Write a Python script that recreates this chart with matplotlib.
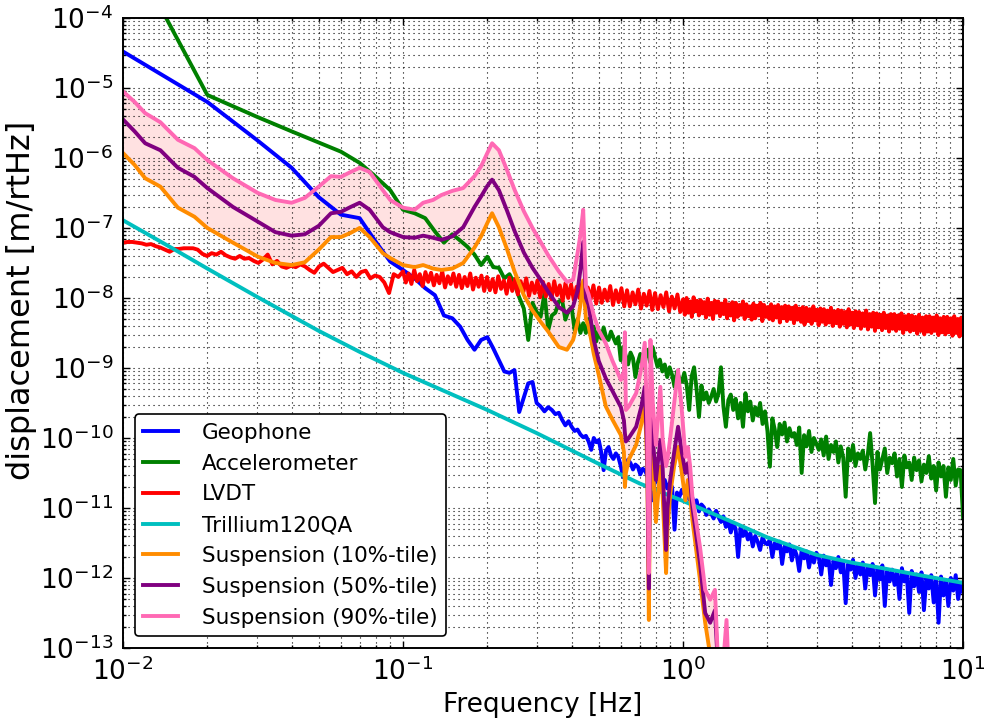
import numpy as np
import matplotlib
matplotlib.use('Agg')
import matplotlib.pyplot as plt
from matplotlib.ticker import LogLocator, LogFormatterMathtext, NullFormatter

plt.rcParams['mathtext.default'] = 'regular'
plt.rcParams['axes.unicode_minus'] = False

# all series are stored as log10(displacement [m/rtHz])

# Geophone: low band at 0.01 Hz steps, then a log grid 0.5 .. 10 Hz
geo_lo_f = np.arange(1, 51) * 0.01
geo_lo = [-4.48, -5.20, -5.74, -6.14, -6.56, -6.81, -6.86, -7.20, -7.48, -7.60,
          -7.72, -7.86, -7.96, -8.25, -8.29, -8.41, -8.60, -8.74, -8.60, -8.56,
          -8.72, -8.89, -9.05, -9.07, -9.03, -9.63, -9.42, -9.22, -9.20, -9.50,
          -9.55, -9.62, -9.56, -9.60, -9.66, -9.64, -9.74, -9.82, -9.76, -9.84,
          -9.90, -9.88, -9.95, -9.99, -9.97, -10.05, -10.17, -10.00, -10.06, -10.03]
geo_hi = [-10.03, -10.20, -10.46, -10.18, -10.13, -10.25, -10.30, -10.22, -10.27, -10.40,
          -10.56, -10.40, -10.31, -10.36, -10.45, -10.38, -10.41, -10.52, -10.44, -10.47,
          -10.55, -10.60, -10.89, -10.58, -10.62, -10.55, -10.68, -10.60, -10.72, -10.65,
          -10.70, -11.31, -10.78, -10.84, -10.74, -10.80, -10.76, -10.88, -10.82, -10.95,
          -10.89, -11.05, -10.95, -10.99, -11.10, -11.02, -11.08, -11.15, -11.04, -11.13,
          -11.20, -11.12, -11.27, -11.18, -11.35, -11.22, -11.30, -11.70, -11.28, -11.40,
          -11.32, -11.45, -11.36, -11.55, -11.40, -11.48, -11.60, -11.42, -11.50, -11.52,
          -11.45, -11.70, -11.50, -11.58, -11.48, -11.80, -11.55, -11.62, -11.52, -11.75,
          -11.58, -11.68, -11.90, -11.60, -11.72, -11.62, -11.85, -11.66, -11.78, -11.64,
          -11.70, -11.95, -11.68, -11.82, -11.72, -12.10, -11.75, -11.86, -11.70, -11.92,
          -11.76, -12.36, -11.80, -11.88, -11.74, -12.00, -11.82, -11.95, -11.78, -12.15,
          -11.84, -11.96, -11.80, -12.25, -11.86, -12.02, -11.82, -12.40, -11.90, -12.05,
          -11.88, -12.10, -11.92, -12.30, -11.86, -12.05, -11.95, -12.50, -11.90, -12.12,
          -11.95, -12.20, -11.92, -12.46, -12.00, -12.15, -11.96, -12.35, -12.02, -12.64,
          -11.98, -12.25, -12.05, -12.40, -12.00, -12.18, -11.96, -12.30, -12.08, -12.20]

# Accelerometer
acc_lo_f = np.arange(1, 51) * 0.01
acc_lo = [-2.85, -5.10, -5.41, -5.62, -5.78, -5.91, -6.07, -6.27, -6.46, -6.74,
          -6.79, -6.86, -7.05, -7.21, -7.09, -7.18, -7.27, -7.38, -7.53, -7.41,
          -7.56, -7.57, -7.72, -7.66, -7.80, -7.99, -8.15, -8.60, -8.07, -8.20,
          -8.27, -7.93, -8.46, -8.25, -8.21, -8.05, -8.03, -8.31, -8.18, -8.13,
          -8.46, -8.30, -8.50, -8.36, -8.50, -8.30, -8.45, -8.41, -8.62, -8.46]
acc_hi = [-8.46, -8.58, -8.42, -8.56, -8.60, -8.48, -8.57, -8.65, -8.56, -8.89,
          -8.70, -8.82, -8.95, -8.78, -8.86, -9.13, -8.92, -8.80, -9.00, -8.85,
          -8.74, -8.92, -8.70, -8.84, -8.98, -8.88, -9.05, -8.95, -9.13, -8.99,
          -9.10, -9.27, -9.05, -9.15, -9.20, -9.07, -9.25, -9.60, -9.12, -8.99,
          -9.30, -9.70, -9.25, -9.45, -9.35, -9.50, -9.41, -9.30, -9.48, -9.36,
          -8.99, -9.55, -9.84, -9.46, -9.38, -9.60, -9.44, -9.72, -9.50, -9.84,
          -9.36, -9.62, -9.48, -9.75, -9.56, -9.68, -9.50, -9.80, -9.62, -9.90,
          -10.41, -9.72, -9.88, -10.13, -9.80, -9.95, -9.78, -10.05, -9.86, -9.98,
          -9.93, -10.10, -9.85, -10.50, -9.96, -10.12, -9.90, -10.20, -10.00, -10.08,
          -10.17, -10.02, -10.25, -9.98, -10.30, -10.10, -10.20, -10.05, -10.35, -10.12,
          -10.28, -10.84, -10.15, -10.32, -10.10, -10.40, -10.22, -10.30, -10.18, -10.45,
          -10.25, -9.93, -10.38, -10.93, -10.20, -10.45, -10.30, -10.15, -10.50, -10.28,
          -10.36, -10.22, -10.55, -10.30, -10.70, -10.25, -10.42, -10.35, -10.60, -10.28,
          -10.46, -10.32, -10.62, -10.38, -10.50, -10.26, -10.58, -10.40, -10.75, -10.35,
          -10.55, -10.40, -10.84, -10.42, -10.60, -10.30, -10.68, -10.45, -10.46, -11.13]

# LVDT: log grids 0.01 .. 0.1, 0.1 .. 1 and 1 .. 10 Hz
lvdt_lo = [-7.21, -7.20, -7.20, -7.21, -7.22, -7.24, -7.23, -7.26, -7.28, -7.31,
           -7.34, -7.30, -7.30, -7.29, -7.29, -7.29, -7.31, -7.37, -7.40, -7.36,
           -7.38, -7.34, -7.39, -7.42, -7.44, -7.40, -7.44, -7.43, -7.47, -7.50,
           -7.45, -7.38, -7.52, -7.47, -7.55, -7.57, -7.54, -7.56, -7.52, -7.55,
           -7.60, -7.64, -7.55, -7.51, -7.57, -7.63, -7.60, -7.57, -7.66, -7.62,
           -7.70, -7.63, -7.61, -7.72, -7.68, -7.70, -7.78, -7.93, -7.66, -7.70]
lvdt_mid = [-7.62, -7.78, -7.65, -7.80, -7.60, -7.76, -7.66, -7.83, -7.63, -7.77,
            -7.64, -7.82, -7.67, -7.79, -7.62, -7.85, -7.69, -7.80, -7.65, -7.84,
            -7.67, -7.86, -7.70, -7.83, -7.65, -7.88, -7.71, -7.84, -7.68, -7.90,
            -7.70, -7.89, -7.73, -7.92, -7.69, -7.87, -7.75, -7.94, -7.71, -7.90,
            -7.73, -7.95, -7.76, -7.91, -7.72, -7.97, -7.78, -7.93, -7.75, -7.99,
            -7.77, -7.98, -7.80, -8.02, -7.76, -7.96, -7.82, -8.04, -7.79, -8.00,
            -7.81, -8.03, -7.84, -8.00, -7.79, -8.06, -7.85, -8.02, -7.82, -8.08,
            -7.85, -8.07, -7.88, -8.04, -7.83, -8.10, -7.89, -8.06, -7.86, -8.12,
            -7.89, -8.12, -7.92, -8.09, -7.88, -8.15, -7.94, -8.11, -7.90, -8.17,
            -7.93, -8.16, -7.96, -8.13, -7.92, -8.19, -7.98, -8.15, -7.95, -8.20]
lvdt_hi = [-8.02, -8.24, -8.00, -8.21, -8.05, -8.27, -7.99, -8.19, -8.04, -8.25,
           -8.03, -8.22, -8.06, -8.28, -8.01, -8.24, -8.07, -8.30, -8.04, -8.21,
           -8.05, -8.26, -8.08, -8.23, -8.03, -8.29, -8.09, -8.25, -8.06, -8.32,
           -8.07, -8.27, -8.10, -8.24, -8.05, -8.30, -8.09, -8.26, -8.12, -8.31,
           -8.08, -8.29, -8.11, -8.25, -8.07, -8.33, -8.10, -8.27, -8.13, -8.30,
           -8.09, -8.32, -8.12, -8.28, -8.10, -8.35, -8.13, -8.29, -8.11, -8.33,
           -8.12, -8.30, -8.14, -8.36, -8.11, -8.31, -8.15, -8.34, -8.13, -8.38,
           -8.14, -8.33, -8.16, -8.37, -8.12, -8.32, -8.17, -8.39, -8.15, -8.34,
           -8.16, -8.38, -8.18, -8.35, -8.14, -8.40, -8.19, -8.36, -8.17, -8.41,
           -8.18, -8.37, -8.20, -8.42, -8.16, -8.38, -8.21, -8.43, -8.19, -8.39,
           -8.20, -8.44, -8.22, -8.40, -8.18, -8.45, -8.23, -8.41, -8.21, -8.47,
           -8.22, -8.42, -8.24, -8.46, -8.21, -8.43, -8.25, -8.48, -8.23, -8.44,
           -8.23, -8.47, -8.25, -8.44, -8.22, -8.50, -8.26, -8.45, -8.24, -8.48,
           -8.25, -8.46, -8.27, -8.51, -8.24, -8.47, -8.28, -8.52, -8.26, -8.48,
           -8.26, -8.50, -8.28, -8.47, -8.25, -8.53, -8.29, -8.49, -8.27, -8.52,
           -8.27, -8.49, -8.29, -8.54, -8.26, -8.50, -8.30, -8.55, -8.28, -8.52]

# Trillium120QA (smooth model)
tri_f = [0.01, 0.015, 0.02, 0.03, 0.05, 0.07, 0.1, 0.15, 0.2, 0.3,
         0.5, 0.7, 1.0, 1.5, 2.0, 3.0, 4.0, 5.0, 7.0, 10.0]
tri = [-6.89, -7.29, -7.58, -7.98, -8.47, -8.77, -9.07, -9.38, -9.60, -9.93,
       -10.37, -10.65, -10.90, -11.20, -11.42, -11.67, -11.78, -11.85, -11.96, -12.07]

# Suspension percentiles
susp_f = [0.010, 0.011, 0.012, 0.0136, 0.0157, 0.018, 0.020, 0.0247, 0.0303, 0.035,
          0.040, 0.0446, 0.050, 0.0553, 0.060, 0.065, 0.070, 0.076, 0.0847, 0.090,
          0.100, 0.110, 0.118, 0.128, 0.137, 0.150, 0.164, 0.180, 0.190, 0.200,
          0.208, 0.220, 0.235, 0.250, 0.270, 0.290, 0.310, 0.330, 0.360, 0.385,
          0.405, 0.420, 0.430, 0.440, 0.450, 0.460, 0.480, 0.500, 0.530, 0.560,
          0.600, 0.615, 0.620, 0.625, 0.640, 0.680, 0.710, 0.730, 0.745, 0.755,
          0.765, 0.780, 0.800, 0.830, 0.845, 0.870, 0.880, 0.900, 0.930, 0.960,
          0.990, 1.020, 1.040, 1.060, 1.080, 1.150, 1.200, 1.250, 1.300, 1.330,
          1.380, 1.430, 1.460]
susp90 = [-5.05, -5.20, -5.36, -5.49, -5.74, -5.86, -6.03, -6.29, -6.50, -6.60,
          -6.64, -6.57, -6.41, -6.26, -6.27, -6.20, -6.14, -6.20, -6.46, -6.60,
          -6.71, -6.74, -6.64, -6.60, -6.53, -6.47, -6.43, -6.26, -6.12, -5.93,
          -5.79, -5.89, -6.17, -6.45, -6.76, -7.00, -7.20, -7.39, -7.62, -7.77,
          -7.74, -7.36, -7.10, -6.74, -7.84, -7.95, -8.25, -8.46, -8.65, -8.90,
          -9.17, -9.05, -8.49, -9.60, -9.55, -9.36, -9.00, -8.64, -9.80, -11.93,
          -8.60, -9.50, -10.10, -9.27, -10.00, -10.40, -10.30, -10.00, -9.50, -9.03,
          -9.60, -10.27, -10.13, -10.40, -10.84, -11.56, -12.17, -12.31, -12.17, -13.10,
          -13.40, -12.60, -13.50]
susp50 = [-5.45, -5.62, -5.79, -5.89, -6.14, -6.27, -6.43, -6.70, -6.91, -7.06,
          -7.11, -7.09, -6.97, -6.79, -6.77, -6.70, -6.64, -6.74, -6.99, -7.06,
          -7.13, -7.14, -7.11, -7.14, -7.17, -7.12, -6.99, -6.70, -6.55, -6.40,
          -6.31, -6.46, -6.75, -7.04, -7.35, -7.57, -7.74, -7.91, -8.13, -8.21,
          -8.12, -7.90, -7.60, -7.20, -8.00, -8.10, -8.60, -8.90, -9.15, -9.33,
          -9.56, -9.75, -9.93, -10.05, -10.00, -9.84, -9.55, -9.27, -10.20, -12.15,
          -9.40, -10.00, -10.60, -10.03, -10.40, -11.60, -11.00, -10.60, -10.20, -9.84,
          -10.20, -10.50, -10.36, -10.60, -10.99, -11.79, -12.50, -12.64, -12.46, -13.20,
          -13.50, -13.05, -13.60]
susp10 = [-5.93, -6.10, -6.29, -6.41, -6.71, -6.84, -7.00, -7.21, -7.41, -7.50,
          -7.53, -7.49, -7.31, -7.13, -7.13, -7.07, -7.00, -7.13, -7.36, -7.43,
          -7.53, -7.56, -7.53, -7.58, -7.60, -7.58, -7.50, -7.28, -7.12, -6.93,
          -6.79, -6.99, -7.30, -7.62, -7.96, -8.18, -8.34, -8.48, -8.70, -8.74,
          -8.60, -8.35, -8.10, -7.75, -8.30, -8.40, -8.80, -9.10, -9.55, -9.74,
          -9.96, -10.20, -10.70, -10.50, -10.31, -10.10, -9.80, -9.46, -10.40, -12.60,
          -9.90, -10.40, -11.20, -10.41, -10.80, -11.93, -11.30, -10.80, -10.40, -10.13,
          -10.50, -10.89, -10.60, -10.85, -11.17, -12.03, -12.64, -13.10, -13.30, -13.50,
          -13.70, -13.30, -13.80]

geo_f = np.concatenate([geo_lo_f[:-1], np.geomspace(0.5, 10, len(geo_hi))])
geo = 10 ** np.array(geo_lo[:-1] + geo_hi)
acc_f = np.concatenate([acc_lo_f[:-1], np.geomspace(0.5, 10, len(acc_hi))])
acc = 10 ** np.array(acc_lo[:-1] + acc_hi)
lvdt_f = np.concatenate([np.geomspace(0.01, 0.1, len(lvdt_lo), endpoint=False),
                         np.geomspace(0.1, 1, len(lvdt_mid), endpoint=False),
                         np.geomspace(1, 10, len(lvdt_hi))])
lvdt = 10 ** np.array(lvdt_lo + lvdt_mid + lvdt_hi)

LW = 2.8

fig = plt.figure(figsize=(9.85, 7.24), dpi=100, facecolor='white')
ax = fig.add_axes([0.1249, 0.105, 0.8528, 0.8702])

ax.fill_between(susp_f, 10 ** np.array(susp10), 10 ** np.array(susp90),
                facecolor='#ffe1e1', lw=0, zorder=1)
ax.plot(geo_f, geo, color='b', lw=LW, label='Geophone')
ax.plot(acc_f, acc, color='g', lw=LW, label='Accelerometer')
ax.plot(lvdt_f, lvdt, color='r', lw=LW, label='LVDT')
ax.plot(tri_f, 10 ** np.array(tri), color='c', lw=LW, label='Trillium120QA')
ax.plot(susp_f, 10 ** np.array(susp10), color='darkorange', lw=LW, label='Suspension (10%-tile)')
ax.plot(susp_f, 10 ** np.array(susp50), color='purple', lw=LW, label='Suspension (50%-tile)')
ax.plot(susp_f, 10 ** np.array(susp90), color='hotpink', lw=LW, label='Suspension (90%-tile)')

ax.set_xscale('log')
ax.set_yscale('log')
ax.set_xlim(1e-2, 1e1)
ax.set_ylim(1e-13, 1e-4)
for axis in (ax.xaxis, ax.yaxis):
    axis.set_major_locator(LogLocator(base=10, numticks=20))
    axis.set_minor_locator(LogLocator(base=10, subs=np.arange(2, 10), numticks=20))
    axis.set_major_formatter(LogFormatterMathtext())
    axis.set_minor_formatter(NullFormatter())

ax.grid(True, which='both', color='k', linestyle=(0, (1, 3.5)), linewidth=0.8)
ax.tick_params(which='both', direction='in', top=True, right=True, width=1)
ax.tick_params(which='major', length=5, labelsize=19, pad=7)
ax.tick_params(which='minor', length=2.5)
for s in ax.spines.values():
    s.set_linewidth(1.4)

ax.set_xlabel('Frequency [Hz]', fontsize=19, labelpad=4)
ax.set_ylabel('displacement [m/rtHz]', fontsize=23)
ax.yaxis.set_label_coords(-0.103, 0.552)

leg = ax.legend(loc='lower left', fontsize=15.5, handlelength=1.6, handletextpad=1.1,
                fancybox=True, framealpha=1, edgecolor='k', borderaxespad=0.55)
leg.get_frame().set_linewidth(1.2)

fig.savefig('out.png', dpi=100, facecolor='white')
